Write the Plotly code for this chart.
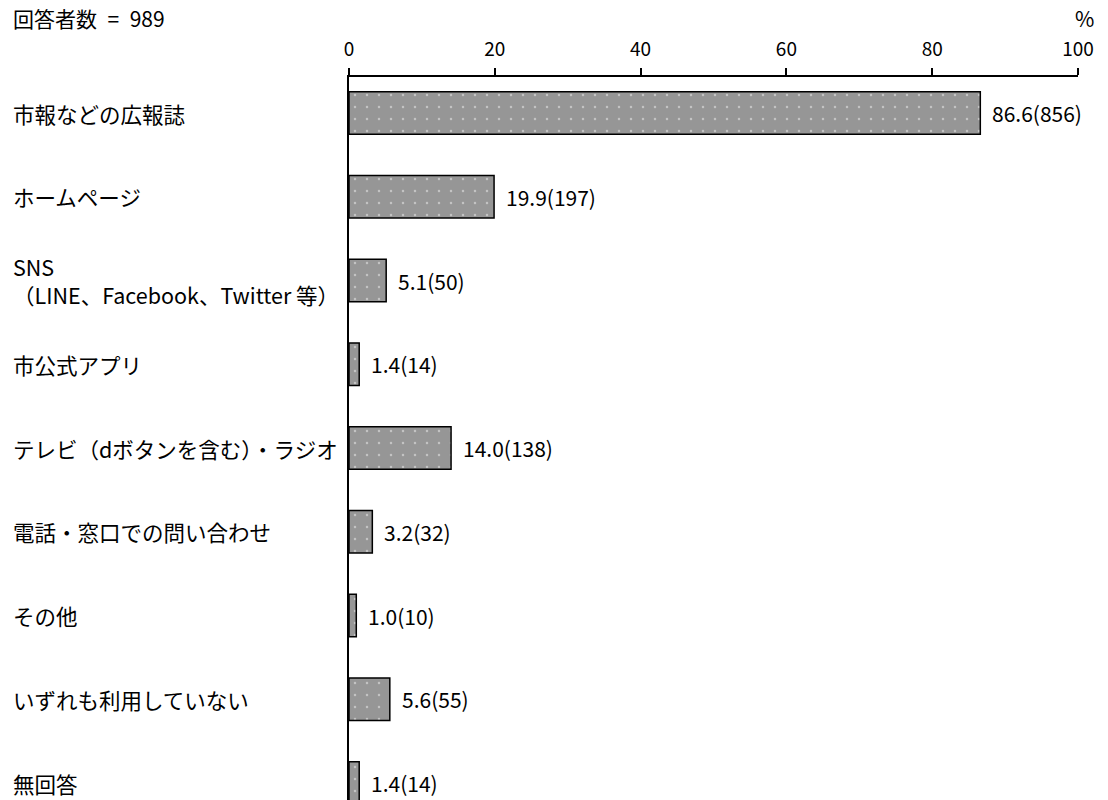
import plotly.graph_objects as go

categories = [
    "市報などの広報誌",
    "ホームページ",
    "SNS<br>（LINE、Facebook、Twitter 等）",
    "市公式アプリ",
    "テレビ（dボタンを含む）・ラジオ",
    "電話・窓口での問い合わせ",
    "その他",
    "いずれも利用していない",
    "無回答",
]
percents = [86.6, 19.9, 5.1, 1.4, 14.0, 3.2, 1.0, 5.6, 1.4]
counts = [856, 197, 50, 14, 138, 32, 10, 55, 14]
x_ticks = [0, 20, 40, 60, 80, 100]

FONT = "Noto Sans CJK JP"
W, H = 1108, 800
L, R, T, B = 349, 30, 77, 0
plot_w = W - L - R

idx = list(range(len(categories)))

fig = go.Figure()
fig.add_trace(go.Bar(
    x=percents, y=idx, orientation="h", width=0.51,
    marker=dict(
        color="#969696",
        line=dict(color="black", width=1.5),
        pattern=dict(shape=".", fgcolor="#f0f0f0", size=12, solidity=0.035),
    ),
    hoverinfo="skip",
))

annotations = []
for i, (p, c) in enumerate(zip(percents, counts)):
    annotations.append(dict(
        x=p, y=i, xref="x", yref="y", text=f"{p:.1f}({c})",
        showarrow=False, xanchor="left", yanchor="middle", xshift=10,
        font=dict(family=FONT, size=21, color="black"),
    ))
for i, cat in enumerate(categories):
    annotations.append(dict(
        x=(11 - L) / plot_w, y=i, xref="paper", yref="y", text=cat,
        showarrow=False, xanchor="left", yanchor="middle", align="left",
        font=dict(family=FONT, size=21.5, color="black"),
    ))
annotations.append(dict(
    x=(11 - L) / plot_w, y=1 + (T - 18) / (H - T - B), xref="paper", yref="paper",
    text="回答者数\u2002=\u2002989", showarrow=False, xanchor="left", yanchor="middle",
    font=dict(family=FONT, size=21, color="black"),
))
annotations.append(dict(
    x=(1096 - L) / plot_w, y=1 + (T - 18) / (H - T - B), xref="paper", yref="paper",
    text="%", showarrow=False, xanchor="right", yanchor="middle",
    font=dict(family=FONT, size=21, color="black"),
))

fig.update_layout(
    width=W, height=H,
    margin=dict(l=L, r=R, t=T, b=B, pad=0),
    plot_bgcolor="white", paper_bgcolor="white",
    showlegend=False,
    annotations=annotations,
    xaxis=dict(
        side="top", range=[0, 100], tickvals=x_ticks,
        showgrid=False, zeroline=False,
        showline=True, linecolor="black", linewidth=1.5,
        ticks="outside", ticklen=7, tickwidth=1.5, tickcolor="black",
        tickfont=dict(family=FONT, size=19, color="black"),
        ticklabelstandoff=5,
    ),
    yaxis=dict(
        range=[8.203, -0.43], showticklabels=False, showgrid=False,
        zeroline=False, showline=True, linecolor="black", linewidth=1.5,
        ticks="",
    ),
)

fig.write_html("out.html")
